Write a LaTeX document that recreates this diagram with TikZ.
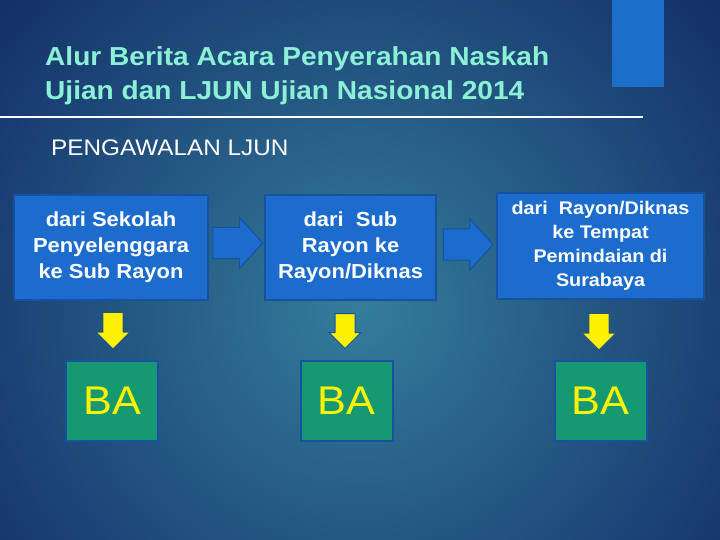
\documentclass[tikz,border=0pt]{standalone}
\usepackage{fontspec}
\setmainfont{Liberation Sans}[FakeStretch=1.08]
\usepackage{tikz}
\usetikzlibrary{shapes}
\usetikzlibrary{shapes.arrows}
\usetikzlibrary{calc}
\usetikzlibrary{positioning}
\usepackage{xcolor}
\definecolor{mynavy}{RGB}{12,30,94}
\definecolor{myteal}{RGB}{52,125,155}
\definecolor{myblue}{RGB}{28,108,206}
\definecolor{myedge}{RGB}{22,82,160}
\definecolor{mybar}{RGB}{27,111,202}
\definecolor{mygreen}{RGB}{22,152,112}
\definecolor{myaqua}{RGB}{140,240,215}
\tikzset{x=1pt, y=-1pt, every text node part/.style={align=center}}
\tikzstyle{heading} = [anchor=base west, inner sep=0pt, text=myaqua, font={\bfseries\fontsize{26}{30}\selectfont}]
\tikzstyle{stage} = [draw=myedge, fill=myblue, line width=2.5pt, text=white, inner sep=0pt, minimum height=105pt, font={\bfseries\fontsize{20.3}{26}\selectfont}]
\tikzstyle{ba} = [draw=myedge, fill=mygreen, line width=2pt, text=yellow, minimum width=92pt, minimum height=80pt, font={\fontsize{40}{40}\selectfont}]
\tikzstyle{rarrow} = [single arrow, anchor=tail, draw=myedge, fill=myblue, line width=1pt, minimum height=50pt, inner xsep=0pt, inner ysep=15pt, single arrow head extend=10pt, single arrow tip angle=95]
\tikzstyle{darrow} = [single arrow, shape border rotate=270, anchor=tail, fill=yellow, minimum height=35pt, inner sep=9.5pt, single arrow head extend=6pt, single arrow tip angle=90]

\begin{document}
\begin{tikzpicture}
  \useasboundingbox (0,0) rectangle (720,540);
  \begin{scope}
    \clip (0,0) rectangle (720,540);
    \shade[inner color=myteal, outer color=mynavy] (360,310) circle (580);
  \end{scope}
  \fill[mybar] (612,0) rectangle (664,87);
  \node[heading] (titleA) at (45,66) {Alur Berita Acara Penyerahan Naskah};
  \node[heading] (titleB) at (45,100) {Ujian dan LJUN Ujian Nasional 2014};
  \draw[white, line width=1.2pt] (0,117) -- (643,117);
  \node[anchor=base west, inner sep=0pt, text=white, font={\fontsize{22.5}{26}\selectfont}] (sub) at (51,156) {PENGAWALAN LJUN};
  \node[stage, minimum width=194pt] (sekolah) at (111,247.5) {dari Sekolah\\Penyelenggara\\ke Sub Rayon};
  \node[stage, minimum width=171pt] (subrayon) at (350.5,247.5) {dari\ \ Sub\\Rayon ke\\Rayon/Diknas};
  \node[stage, minimum width=207pt, minimum height=106pt, font={\bfseries\fontsize{18.3}{24}\selectfont}] (rayon) at (600.5,246) {dari\ \ Rayon/Diknas\\ke Tempat\\Pemindaian di\\Surabaya};
  \node[rarrow, xshift=3pt, yshift=4.5pt] (r1) at (sekolah.east) {};
  \node[rarrow, xshift=5.5pt, yshift=3pt] (r2) at (subrayon.east) {};
  \node[ba] (ba1) at (112,400.5) {BA};
  \node[ba] (ba2) at (346.5,400.5) {BA};
  \node[ba] (ba3) at (600.5,400.5) {BA};
  \node[darrow, xshift=2pt, yshift=-11.75pt] (d1) at (sekolah.south) {};
  \node[darrow, draw=myedge, line width=1pt, xshift=-5.5pt, yshift=-11.75pt] (d2) at (subrayon.south) {};
  \node[darrow, xshift=-1.5pt, yshift=-13.75pt] (d3) at (rayon.south) {};
\end{tikzpicture}
\end{document}
